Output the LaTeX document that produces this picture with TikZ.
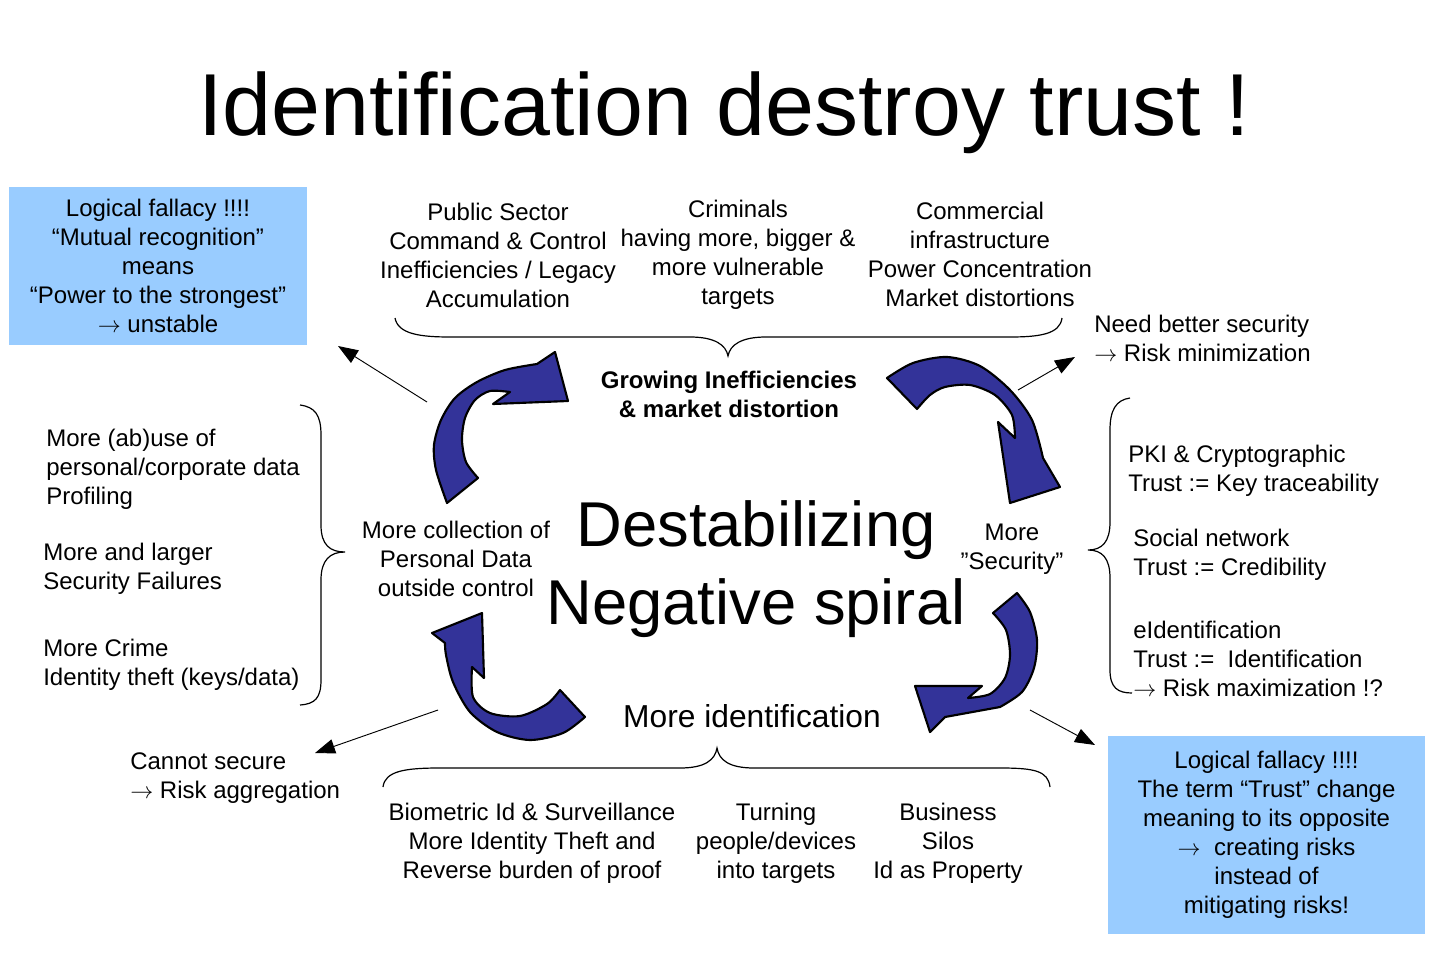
\documentclass[tikz,border=0pt]{standalone}
\usepackage{fontspec}
\setmainfont{Liberation Sans}
\usetikzlibrary{arrows.meta}
\definecolor{boxblue}{RGB}{153,204,255}
\definecolor{arrowblue}{RGB}{51,51,153}
\newcommand{\fsz}[2]{\fontsize{#1}{#2}\selectfont}
\newcommand{\arr}{$\rightarrow$}
\begin{document}
\begin{tikzpicture}[x=0.75pt,y=-0.75pt,
  txt/.style={inner sep=0pt, font=\fsz{18}{21.75}, align=center},
  ltxt/.style={inner sep=0pt, font=\fsz{18}{21.75}, align=left, anchor=west},
  notebox/.style={fill=boxblue, draw=none, inner sep=0pt, font=\fsz{18}{21.75}, align=center},
  brace/.style={draw=black, line width=0.9pt},
  ptr/.style={draw=black, line width=0.7pt, -{Triangle[length=15pt,width=11pt]}},
  spiral/.style={fill=arrowblue, draw=black, line width=1.6pt, line join=round},
]
\useasboundingbox (0,0) rectangle (1432,953);
\fill[white] (0,0) rectangle (1432,953);

% title
\node[inner sep=0pt, font=\fsz{66}{72}] (title) at (724,113) {Identification destroy trust !};

% blue boxes
\node[notebox, minimum width=223.5pt, minimum height=118.5pt] (lbox) at (158,266)
  {Logical fallacy !!!!\\“Mutual recognition”\\means\\“Power to the strongest”\\\arr\ unstable};
\node[notebox, minimum width=237.75pt, minimum height=148.5pt] (rbox) at (1266.5,835)
  {Logical fallacy !!!!\\The term “Trust” change\\meaning to its opposite\\\arr\ \ creating risks\\instead of\\mitigating risks!};

% top columns
\node[txt] (pub) at (498,255) {Public Sector\\Command \& Control\\Inefficiencies / Legacy\\Accumulation};
\node[txt] (crim) at (738,255) {Criminals\\having more, bigger \&\\more vulnerable\\targets};
\node[txt] (comm) at (980,254) {Commercial\\infrastructure\\Power Concentration\\Market distortions};

% centre texts
\node[txt, font=\bfseries\fsz{18}{21.75}] (grow) at (729,394) {Growing Inefficiencies\\\& market distortion};
\node[txt] (coll) at (456,559) {More collection of\\Personal Data\\outside control};
\node[txt] (sec) at (1012,549) {More\\”Security”};
\node[txt, font=\fsz{47.5}{58.5}] (spiralt) at (756,569) {Destabilizing\\Negative spiral};
\node[txt, font=\fsz{23.8}{28}] (ident) at (752,716) {More identification};

% left texts
\node[ltxt] (abuse) at (46,469) {More (ab)use of\\personal/corporate data\\Profiling};
\node[ltxt] (fail) at (43,569) {More and larger\\Security Failures};
\node[ltxt] (crime) at (43,665) {More Crime\\Identity theft (keys/data)};
\node[ltxt] (cannot) at (130,778) {Cannot secure\\\arr\ Risk aggregation};

% right texts
\node[ltxt] (need) at (1094,338) {Need better security\\\arr\ Risk minimization};
\node[ltxt] (pki) at (1128,471) {PKI \& Cryptographic\\Trust := Key traceability};
\node[ltxt] (social) at (1133,555) {Social network\\Trust := Credibility};
\node[ltxt] (eid) at (1133,659) {eIdentification\\Trust :=\ \ Identification\\\arr\ Risk maximization !?};

% bottom columns
\node[txt] (bio) at (532,843) {Biometric Id \& Surveillance\\More Identity Theft and\\Reverse burden of proof};
\node[txt] (turn) at (776,843) {Turning\\people/devices\\into targets};
\node[txt] (bus) at (948,843) {Business\\Silos\\Id as Property};

% braces
\draw[brace] (395,318) .. controls (398,334) and (420,337) .. (450,337) -- (690,337)
  .. controls (715,337) and (726,345) .. (728,356)
  .. controls (730,345) and (741,337) .. (766,337) -- (1010,337)
  .. controls (1040,337) and (1060,334) .. (1062,318);
\draw[brace] (383,787) .. controls (385,771) and (405,768) .. (440,768) -- (680,768)
  .. controls (705,768) and (715,760) .. (717,748)
  .. controls (719,760) and (729,768) .. (754,768) -- (1000,768)
  .. controls (1035,768) and (1048,771) .. (1050,787);
\draw[brace] (300,405) .. controls (315,407) and (321,415) .. (321,435) -- (321,525)
  .. controls (321,545) and (330,552) .. (345,552)
  .. controls (330,552) and (321,560) .. (321,580) -- (321,680)
  .. controls (321,698) and (315,704) .. (300,705);
\draw[brace] (1130,398) .. controls (1116,400) and (1110,410) .. (1110,430) -- (1110,522)
  .. controls (1110,542) and (1102,550) .. (1088,550)
  .. controls (1102,550) and (1110,558) .. (1110,578) -- (1110,670)
  .. controls (1110,688) and (1118,693) .. (1132,693);

% spiral arrows
\filldraw[spiral] plot[smooth] coordinates {(447,503) (436,470) (434,445) (441,420) (455,398) (477,382) (505,370) (537,364)}
  -- (555,352) -- (568,401) -- (493,404) -- (510,392)
  -- plot[smooth] coordinates {(510,392) (490,391) (475,400) (465,418) (462,440) (466,462) (478,478)} -- cycle;
\filldraw[spiral] plot[smooth] coordinates {(887,378) (913,363) (947,357) (980,366) (1010,390) (1032,420) (1043,458)}
  -- (1060,487) -- (1010,503) -- (998,422) -- (1015,438)
  -- plot[smooth] coordinates {(1015,438) (1012,415) (995,395) (970,385) (945,387) (930,395) (917,409)} -- cycle;
\filldraw[spiral] plot[smooth] coordinates {(1017,593) (1030,612) (1037,640) (1034,668) (1022,692) (1000,707)}
  -- (945,717) -- (930,732) -- (915,686) -- (982,686) -- (968,698)
  -- plot[smooth] coordinates {(968,698) (990,694) (1005,678) (1010,655) (1006,630) (993,613)} -- cycle;
\filldraw[spiral] plot[smooth] coordinates {(585,717) (563,733) (530,740) (497,732) (470,712) (453,682) (446,655) (445,643)}
  -- (432,633) -- (482,613) -- (484,678) -- (472,667)
  -- plot[smooth] coordinates {(472,667) (473,697) (490,713) (520,716) (547,704) (560,690)} -- cycle;

% pointer arrows
\coordinate (p1s) at (427,402); \coordinate (p1e) at (338,346);
\coordinate (p2s) at (1018,390); \coordinate (p2e) at (1075,357);
\coordinate (p3s) at (438,710); \coordinate (p3e) at (315,753);
\coordinate (p4s) at (1030,710); \coordinate (p4e) at (1095,745);
\draw[ptr] (p1s) -- (p1e);
\draw[ptr] (p2s) -- (p2e);
\draw[ptr] (p3s) -- (p3e);
\draw[ptr] (p4s) -- (p4e);
\end{tikzpicture}
\end{document}
